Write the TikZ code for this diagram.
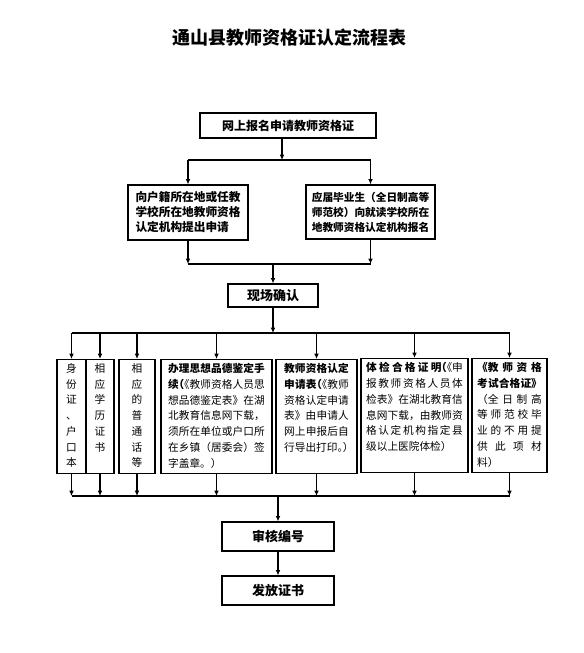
\documentclass[tikz,border=0pt]{standalone}
\usepackage{fontspec}
\setmainfont{Noto Sans CJK SC}
\usetikzlibrary{arrows.meta}
\XeTeXlinebreaklocale "zh"
\XeTeXlinebreakskip=0pt plus 2pt

\tikzset{
  stepbox/.style={draw, line width=0.8pt, inner sep=0pt, align=center},
  colbox/.style={draw, line width=0.8pt, anchor=north, inner xsep=0pt, inner ysep=3pt,
    minimum height=85.5pt, font=\fontsize{8}{11.8}\selectfont},
  arr/.style={-{Latex[length=4pt,width=3.5pt]}, line width=0.8pt},
  link/.style={line width=0.8pt},
}
\newcommand{\coltext}[2]{\parbox[c][79.5pt][t]{#1}{#2}}
\newcommand{\halfl}[1]{\makebox[.5em][r]{#1}}
\newcommand{\halfr}[1]{\makebox[.5em][l]{#1}}

\begin{document}
\begin{tikzpicture}[x=0.75pt, y=-0.75pt]
\useasboundingbox (0,0) rectangle (583,653);

\node[font=\fontsize{13.5}{16}\selectfont\bfseries] (title) at (289,38) {通山县教师资格证认定流程表};

% upper part
\node[stepbox, minimum width=132pt, minimum height=18.75pt, font=\fontsize{9}{11}\selectfont\bfseries]
  (apply) at (288,125.5) {网上报名申请教师资格证};
\node[stepbox, minimum width=90pt, minimum height=41.25pt, align=left,
  font=\fontsize{8.75}{11.25}\selectfont\bfseries]
  (local) at (188,212.5) {向户籍所在地或任教\\学校所在地教师资格\\认定机构提出申请};
\node[stepbox, minimum width=96.75pt, minimum height=40.5pt, align=left,
  font=\fontsize{8}{11.25}\selectfont\bfseries]
  (grad) at (370.5,212) {应届毕业生（全日制高等\\师范校）向就读学校所在\\地教师资格认定机构报名};
\node[stepbox, minimum width=67.5pt, minimum height=17.25pt, font=\fontsize{9.75}{12}\selectfont\bfseries]
  (confirm) at (273,295.5) {现场确认};

\coordinate (split1) at (282,160);
\coordinate (merge1) at (273,264);
\coordinate (split2) at (273,333);
\coordinate (merge2) at (278,496);

\draw[arr] (apply.south -| split1) -- (split1);
\draw[link] (local.north |- split1) -- (grad.north |- split1);
\draw[arr] (local.north |- split1) -- (local.north);
\draw[arr] (grad.north |- split1) -- (grad.north);
\draw[arr] (local.south) -- (local.south |- merge1);
\draw[arr] (grad.south) -- (grad.south |- merge1);
\draw[link] (local.south |- merge1) -- (grad.south |- merge1);
\draw[arr] (merge1) -- (confirm.north);
\draw[arr] (confirm.south) -- (split2);

% materials
\node[colbox, minimum width=21.75pt] (idcard) at (71.5,359)
  {\coltext{8pt}{\centering 身\\份\\证\\、\\户\\口\\本}};
\node[colbox, minimum width=21pt] (diploma) at (100,359)
  {\coltext{8pt}{\centering 相\\应\\学\\历\\证\\书}};
\node[colbox, minimum width=27pt] (mandarin) at (137,359)
  {\coltext{8pt}{\centering 相\\应\\的\\普\\通\\话\\等}};
\node[colbox, minimum width=83.25pt] (moral) at (216.5,359)
  {\coltext{72.5pt}{{\bfseries 办理思想品德鉴定手\linebreak 续\halfl{（}}\halfl{《}教师资格人员思\linebreak
   想品德鉴定表》在湖\linebreak 北教育信息网下载，\linebreak 须所在单位或户口所\linebreak
   在乡镇（居委会）签\linebreak 字盖章。）}};
\node[colbox, minimum width=60.75pt] (form) at (316.5,359)
  {\coltext{48.5pt}{{\bfseries 教师资格认定\linebreak 申请表\halfl{（}}\halfl{《}教师\linebreak
   资格认定申请\linebreak 表》由申请人\linebreak 网上申报后自\linebreak 行导出打印\halfr{。}\halfr{）}}};
\node[colbox, minimum width=80.25pt] (health) at (414.5,358)
  {\coltext{72.5pt}{{\bfseries 体检合格证明\halfl{（}}\halfl{《}申\linebreak 报教师资格人员体\linebreak
   检表》在湖北教育信\linebreak 息网下载，由教师资\linebreak 格认定机构指定县\linebreak 级以上医院体检）}};
\node[colbox, minimum width=56.25pt] (exam) at (509.5,358)
  {\coltext{48.5pt}{{\bfseries 《教师资格\linebreak 考试合格证》}\linebreak （全日制高\linebreak
   等师范校毕\linebreak 业的不用提\linebreak 供此项材\linebreak 料）}};

\draw[link] (split2 -| idcard.north) -- (split2 -| exam.north);
\draw[link] (merge2 -| idcard.south) -- (merge2 -| exam.south);
\foreach \b in {idcard,diploma,mandarin,moral,form,health,exam} {
  \draw[arr] (split2 -| \b.north) -- (\b.north);
  \draw[arr] (\b.south) -- (\b.south |- merge2);
}

% lower part
\node[stepbox, minimum width=84pt, minimum height=21.75pt, font=\fontsize{9.75}{12}\selectfont\bfseries]
  (review) at (278,536.5) {审核编号};
\node[stepbox, minimum width=84pt, minimum height=21.75pt, font=\fontsize{9.75}{12}\selectfont\bfseries]
  (issue) at (278,590.5) {发放证书};

\draw[arr] (merge2) -- (review.north);
\draw[arr] (review.south) -- (issue.north);
\end{tikzpicture}
\end{document}
